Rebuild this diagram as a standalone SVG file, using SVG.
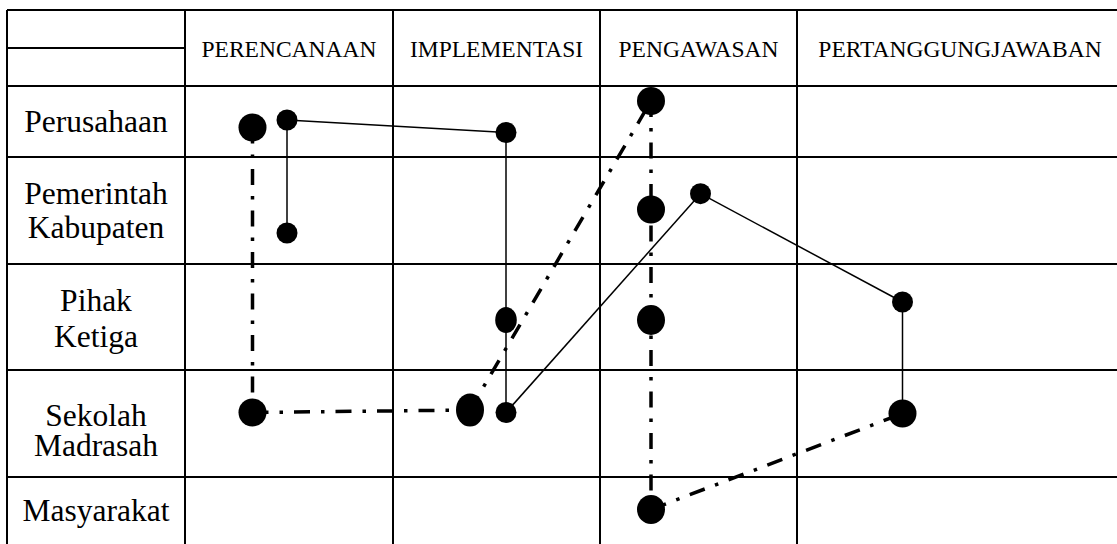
<svg xmlns="http://www.w3.org/2000/svg" width="1117" height="544" viewBox="0 0 1117 544">
<style>
.grid{stroke:#000;stroke-width:2;fill:none}
.hd{font-family:"Liberation Serif","Times New Roman",serif;font-size:23.5px;fill:#000;text-anchor:middle}
.lb{font-family:"Liberation Serif","Times New Roman",serif;font-size:31.5px;fill:#000;text-anchor:middle}
.solid{stroke:#000;stroke-width:1.5;fill:none}
.dd{stroke:#000;stroke-width:3.5;fill:none;stroke-dasharray:16 11 3.5 11}
.dot{fill:#000}
</style>
<rect width="1117" height="544" fill="#fff"/>
<g id="table">
<path class="grid" d="M7 10H1123M7 48H185M7 86H1123M7 157H1123M7 264H1123M7 370H1123M7 477H1123M7 10V560M185 10V560M393 10V560M600 10V560M797 10V560M1122 10V560"/>
</g>
<g id="headers">
<text class="hd" x="289" y="56.5">PERENCANAAN</text>
<text class="hd" x="496.5" y="56.5">IMPLEMENTASI</text>
<text class="hd" x="698.5" y="56.5">PENGAWASAN</text>
<text class="hd" x="960" y="56.5">PERTANGGUNGJAWABAN</text>
</g>
<g id="rowlabels">
<text class="lb" x="96" y="132">Perusahaan</text>
<text class="lb" x="96" y="203.5">Pemerintah</text>
<text class="lb" x="96" y="238">Kabupaten</text>
<text class="lb" x="96" y="311">Pihak</text>
<text class="lb" x="96" y="346.5">Ketiga</text>
<text class="lb" x="96" y="426">Sekolah</text>
<text class="lb" x="96" y="456">Madrasah</text>
<text class="lb" x="96" y="520.5">Masyarakat</text>
</g>
<g id="connectors">
<path class="solid" d="M287 120L506 132.5"/>
<path class="solid" d="M287 120V232"/>
<path class="solid" d="M506 132.5V412.5"/>
<path class="solid" d="M506 412.5L700.5 193.7"/>
<path class="solid" d="M700.5 193.7L902.5 302"/>
<path class="solid" d="M902.5 302V413.5"/>
<path class="dd" d="M252.5 127.5V412.5"/>
<path class="dd" d="M252.5 412.5L470 410"/>
<path class="dd" d="M470 410L651 101"/>
<path class="dd" d="M651 101V509.5"/>
<path class="dd" d="M651 509.5L902.5 413.5"/>
</g>
<g id="n1"><circle class="dot" cx="252.5" cy="127.5" r="14"/></g>
<g id="n2"><circle class="dot" cx="287" cy="120" r="10.5"/></g>
<g id="n3"><circle class="dot" cx="287" cy="233" r="10.5"/></g>
<g id="n4"><circle class="dot" cx="506" cy="132.5" r="10.5"/></g>
<g id="n5"><circle class="dot" cx="651" cy="101" r="14"/></g>
<g id="n6"><circle class="dot" cx="651" cy="209.5" r="14"/></g>
<g id="n7"><circle class="dot" cx="700.5" cy="193.7" r="10.5"/></g>
<g id="n8"><ellipse class="dot" cx="651" cy="320" rx="14" ry="15"/></g>
<g id="n9"><ellipse class="dot" cx="506" cy="320" rx="10.8" ry="13"/></g>
<g id="n10"><circle class="dot" cx="902.5" cy="302" r="10.5"/></g>
<g id="n11"><circle class="dot" cx="252.5" cy="412.5" r="14"/></g>
<g id="n12"><ellipse class="dot" cx="470" cy="410" rx="14" ry="16.5"/></g>
<g id="n13"><circle class="dot" cx="506" cy="412.5" r="10.5"/></g>
<g id="n14"><circle class="dot" cx="902.5" cy="413.5" r="14"/></g>
<g id="n15"><ellipse class="dot" cx="651" cy="509.5" rx="14" ry="14.5"/></g>
</svg>
